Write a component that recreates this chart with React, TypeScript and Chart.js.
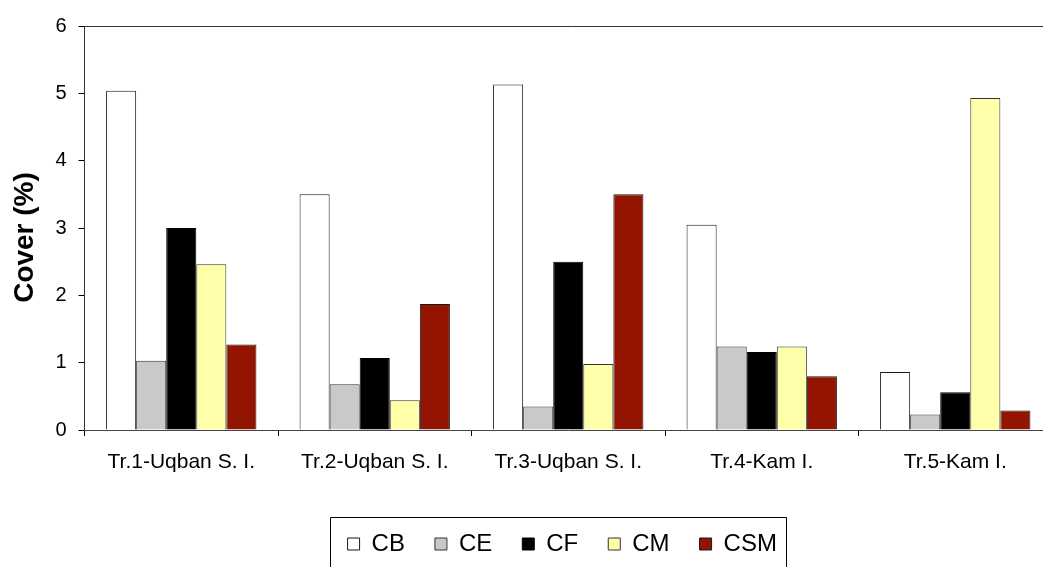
import React, { useEffect, useRef } from "react";
import { Chart, registerables } from "chart.js";

Chart.register(...registerables);

const categories = [
  "Tr.1-Uqban S. I.",
  "Tr.2-Uqban S. I.",
  "Tr.3-Uqban S. I.",
  "Tr.4-Kam I.",
  "Tr.5-Kam I.",
];
const seriesNames = ["CB", "CE", "CF", "CM", "CSM"];
const cbValues = [5.04, 3.5, 5.13, 3.05, 0.86];
const ceValues = [1.03, 0.68, 0.35, 1.24, 0.23];
const cfValues = [3.0, 1.07, 2.5, 1.16, 0.56];
const cmValues = [2.46, 0.44, 0.98, 1.24, 4.93];
const csmValues = [1.27, 1.87, 3.5, 0.8, 0.29];
const yTicks = [0, 1, 2, 3, 4, 5, 6];
const yTitle = "Cover (%)";

const fillColors = ["#FFFFFF", "#C9C9C9", "#000000", "#FFFFAA", "#931400"];
const edgeColors = ["#1a1a1a", "#333333", "#000000", "#333333", "#1a1a1a"];

const FONT = "'Liberation Sans', Arial, sans-serif";

const framePlugin = {
  id: "frameLines",
  afterLayout(chart: any) {
    const lg = chart.legend;
    if (lg) {
      lg.left -= 6;
      lg.right -= 6;
    }
  },
  afterDraw(chart: any) {
    const ctx = chart.ctx;
    const area = chart.chartArea;
    ctx.save();
    ctx.strokeStyle = "#333333";
    ctx.lineWidth = 1;
    ctx.beginPath();
    ctx.moveTo(area.left, Math.round(area.top) + 0.5);
    ctx.lineTo(chart.width, Math.round(area.top) + 0.5);
    ctx.stroke();
    const hb = chart.legend && chart.legend.legendHitBoxes;
    if (hb && hb.length) {
      const first = hb[0];
      const last = hb[hb.length - 1];
      const left = Math.round(first.left - 17.5) + 0.5;
      const right = Math.round(last.left + last.width + 9) + 0.5;
      const top = Math.round(first.top - 15) + 0.5;
      ctx.strokeStyle = "#000000";
      ctx.beginPath();
      ctx.moveTo(left, chart.height + 5);
      ctx.lineTo(left, top);
      ctx.lineTo(right, top);
      ctx.lineTo(right, chart.height + 5);
      ctx.stroke();
    }
    // y-axis title, placed a little below the plot's middle as in the original
    ctx.translate(25, (area.top + area.bottom) / 2 + 9.5);
    ctx.rotate(-Math.PI / 2);
    ctx.fillStyle = "#000";
    ctx.font = `bold 28px ${FONT}`;
    ctx.textAlign = "center";
    ctx.textBaseline = "middle";
    ctx.fillText(yTitle, 0, 0);
    ctx.restore();
  },
};

export default function App() {
  const canvasRef = useRef<HTMLCanvasElement | null>(null);

  useEffect(() => {
    document.body.style.margin = "0";
    const canvas = canvasRef.current;
    if (!canvas) return;
    const seriesValues = [cbValues, ceValues, cfValues, cmValues, csmValues];
    const chart = new Chart(canvas, {
      type: "bar",
      data: {
        labels: categories,
        datasets: seriesNames.map((name, i) => ({
          label: name,
          data: seriesValues[i],
          backgroundColor: fillColors[i],
          borderColor: edgeColors[i],
          borderWidth: 1,
          categoryPercentage: 0.777,
          barPercentage: 1,
        })),
      },
      options: {
        responsive: false,
        animation: false,
        devicePixelRatio: 1,
        layout: { padding: { top: 26, right: 8, bottom: 1, left: 0 } },
        plugins: {
          tooltip: { enabled: false },
          legend: {
            position: "bottom",
            fullSize: false,
            labels: {
              boxWidth: 12,
              boxHeight: 12,
              padding: 30,
              color: "#000",
              font: { family: FONT, size: 24 },
            },
          },
        },
        scales: {
          x: {
            afterFit: (scale: any) => {
              scale.height = 72;
            },
            grid: {
              display: true,
              offset: true,
              drawOnChartArea: false,
              tickLength: 6,
              color: "#000",
            },
            border: { display: true, color: "#444", width: 1 },
            ticks: {
              color: "#000",
              padding: 14,
              maxRotation: 0,
              font: { family: FONT, size: 21 },
            },
          },
          y: {
            min: 0,
            max: 6,
            afterFit: (scale: any) => {
              scale.width = 84.5;
            },
            afterBuildTicks: (scale: any) => {
              scale.ticks = yTicks.map((v) => ({ value: v }));
            },
            grid: {
              display: true,
              drawOnChartArea: false,
              tickLength: 6,
              color: "#000",
            },
            border: { display: true, color: "#333", width: 1 },
            ticks: {
              color: "#000",
              padding: 12,
              font: { family: FONT, size: 20 },
            },
            title: { display: false },
          },
        },
      },
      plugins: [framePlugin],
    });
    return () => chart.destroy();
  }, []);

  return (
    <div style={{ width: 1043, height: 567, overflow: "hidden", background: "#fff" }}>
      <canvas ref={canvasRef} width={1060} height={567} style={{ display: "block" }} />
    </div>
  );
}
